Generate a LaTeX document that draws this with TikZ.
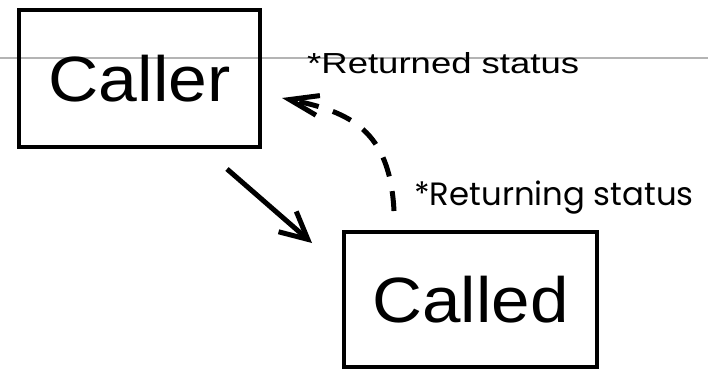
\documentclass[tikz,border=0pt]{standalone}
\usepackage{fontspec}
\setmainfont{Liberation Sans}
\newfontfamily\geofont{Poppins}
\usetikzlibrary{arrows.meta}
\definecolor{rulegray}{RGB}{180,180,180}
\begin{document}
\begin{tikzpicture}[x=1pt,y=-1pt,
  box/.style={draw=black, line width=4.3pt, inner sep=0pt,
    font=\fontsize{64}{70}\selectfont},
  flow/.style={line width=5pt, -{Straight Barb[length=27pt,width=27pt]}},
  back/.style={line width=5pt, dash pattern=on 20pt off 15pt,
    -{Straight Barb[length=29pt,width=20pt]}},
  note/.style={inner sep=0pt, anchor=base west,
    font=\fontsize{29}{32}\selectfont}]
\useasboundingbox (0,0) rectangle (708,370);

% thin horizontal rule behind everything
\coordinate (ruleL) at (0,58);
\coordinate (ruleR) at (708,58);
\draw[line width=2.2pt, rulegray] (ruleL) -- (ruleR);

% the two boxes
\node[box, minimum width=241pt, minimum height=137pt] (caller) at (139.5,78.5)
  {\resizebox{182pt}{\height}{Caller}};
\node[box, minimum width=253pt, minimum height=135pt] (called) at (470.5,299.5)
  {\resizebox{196pt}{\height}{Called}};

% labels
\node[note] (retd) at (307,73.5) {\resizebox{272pt}{\height}{*Returned status}};
\node[note, font=\geofont\fontsize{32.3}{36}\selectfont] (retg) at (414,205)
  {*Returning status};

% call arrow
\coordinate (goS) at (227,169);
\coordinate (goE) at (312,243);
\draw[flow] (goS) -- (goE);

% dashed return arrow
\coordinate (backS) at (394,211);
\coordinate (backE) at (282,98);
\draw[back] (backS) .. controls (390,130) and (350,112) .. (backE);
\end{tikzpicture}
\end{document}
